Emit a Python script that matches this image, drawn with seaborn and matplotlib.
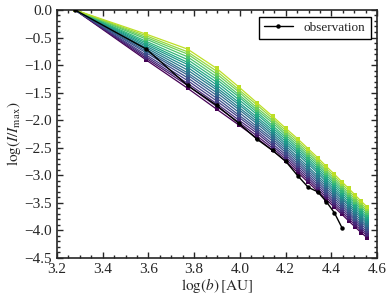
import numpy as np
import pandas as pd
import seaborn as sns
import matplotlib.pyplot as plt
from matplotlib.ticker import MultipleLocator, AutoMinorLocator

# log of projected distance b [AU]
logb = [3.279, 3.591, 3.771, 3.898, 3.996, 4.076, 4.143, 4.201, 4.253,
        4.299, 4.340, 4.378, 4.413, 4.446, 4.476, 4.504, 4.530, 4.555]

# observed profile
obs_logb = [3.279, 3.591, 3.771, 3.898, 3.996, 4.076, 4.143, 4.201,
            4.253, 4.299, 4.340, 4.378, 4.413, 4.446]
obs_logI = [0.0, -0.71, -1.37, -1.73, -2.06, -2.35, -2.55, -2.75,
            -3.01, -3.22, -3.30, -3.48, -3.68, -3.95]

# model profiles: one row per b, one value per model (16 models)
model_logI = [
    [0.0] * 16,
    [-0.91, -0.88, -0.85, -0.82, -0.78, -0.75, -0.72, -0.69, -0.66, -0.63, -0.60, -0.57, -0.53, -0.50, -0.47, -0.44],
    [-1.42, -1.37, -1.33, -1.28, -1.23, -1.18, -1.14, -1.09, -1.04, -0.99, -0.95, -0.90, -0.85, -0.80, -0.76, -0.71],
    [-1.80, -1.75, -1.70, -1.65, -1.60, -1.55, -1.50, -1.45, -1.41, -1.36, -1.31, -1.26, -1.21, -1.16, -1.11, -1.06],
    [-2.09, -2.04, -2.00, -1.95, -1.91, -1.86, -1.81, -1.77, -1.72, -1.68, -1.63, -1.58, -1.54, -1.49, -1.45, -1.40],
    [-2.33, -2.29, -2.24, -2.20, -2.16, -2.12, -2.07, -2.03, -1.99, -1.95, -1.90, -1.86, -1.82, -1.78, -1.73, -1.69],
    [-2.55, -2.51, -2.47, -2.43, -2.38, -2.34, -2.30, -2.26, -2.22, -2.18, -2.14, -2.10, -2.05, -2.01, -1.97, -1.93],
    [-2.75, -2.71, -2.67, -2.63, -2.59, -2.55, -2.51, -2.47, -2.43, -2.39, -2.35, -2.31, -2.27, -2.23, -2.19, -2.15],
    [-2.95, -2.91, -2.87, -2.83, -2.79, -2.75, -2.71, -2.67, -2.62, -2.58, -2.54, -2.50, -2.46, -2.42, -2.38, -2.34],
    [-3.13, -3.09, -3.05, -3.01, -2.97, -2.93, -2.89, -2.85, -2.80, -2.76, -2.72, -2.68, -2.64, -2.60, -2.56, -2.52],
    [-3.29, -3.25, -3.21, -3.17, -3.13, -3.09, -3.05, -3.01, -2.96, -2.92, -2.88, -2.84, -2.80, -2.76, -2.72, -2.68],
    [-3.44, -3.40, -3.36, -3.32, -3.28, -3.24, -3.20, -3.16, -3.12, -3.08, -3.04, -3.00, -2.96, -2.92, -2.88, -2.84],
    [-3.58, -3.54, -3.50, -3.46, -3.42, -3.38, -3.34, -3.30, -3.26, -3.22, -3.18, -3.14, -3.10, -3.06, -3.02, -2.98],
    [-3.71, -3.67, -3.63, -3.59, -3.55, -3.51, -3.47, -3.43, -3.40, -3.36, -3.32, -3.28, -3.24, -3.20, -3.16, -3.12],
    [-3.83, -3.79, -3.75, -3.71, -3.67, -3.63, -3.59, -3.55, -3.52, -3.48, -3.44, -3.40, -3.36, -3.32, -3.28, -3.24],
    [-3.94, -3.90, -3.86, -3.82, -3.79, -3.75, -3.71, -3.67, -3.63, -3.59, -3.55, -3.51, -3.48, -3.44, -3.40, -3.36],
    [-4.04, -4.00, -3.96, -3.93, -3.89, -3.85, -3.81, -3.77, -3.74, -3.70, -3.66, -3.62, -3.58, -3.55, -3.51, -3.47],
    [-4.13, -4.09, -4.06, -4.02, -3.98, -3.94, -3.91, -3.87, -3.83, -3.79, -3.76, -3.72, -3.68, -3.64, -3.61, -3.57],
]

n_models = len(model_logI[0])

# long table for seaborn
rows = []
for i, b in enumerate(logb):
    for m in range(n_models):
        rows.append({'logb': b, 'logI': model_logI[i][m], 'model': m})
df = pd.DataFrame(rows)
obs = pd.DataFrame({'logb': obs_logb, 'logI': obs_logI})

sns.set_style('ticks')
plt.rcParams['font.family'] = ['Liberation Serif', 'DejaVu Serif']
plt.rcParams['mathtext.fontset'] = 'stix'
plt.rcParams['xtick.direction'] = 'in'
plt.rcParams['ytick.direction'] = 'in'

fig = plt.figure(figsize=(3.9, 3.02), dpi=100)
ax = fig.add_axes([0.146, 0.146, 0.821, 0.821])

cmap = sns.color_palette('viridis', as_cmap=True)
pal = [cmap(v) for v in np.linspace(0.0, 0.9, n_models)]

sns.lineplot(data=df, x='logb', y='logI', hue='model', palette=pal,
             marker='s', markersize=2.3, markeredgewidth=0, linewidth=0.9,
             estimator=None, sort=False, legend=False, ax=ax, zorder=2)
sns.lineplot(data=obs, x='logb', y='logI', color='black', marker='o',
             markersize=3.2, markeredgewidth=0, linewidth=1.0,
             estimator=None, sort=False, label='observation', ax=ax, zorder=3)

ax.set_xlim(3.2, 4.6)
ax.set_ylim(-4.5, 0.0)
ax.xaxis.set_major_locator(MultipleLocator(0.2))
ax.xaxis.set_minor_locator(AutoMinorLocator(4))
ax.yaxis.set_major_locator(MultipleLocator(0.5))
ax.yaxis.set_minor_locator(AutoMinorLocator(5))
ax.tick_params(which='both', top=True, right=True, labelsize=11, width=1.0)
ax.tick_params(which='major', length=4)
ax.tick_params(which='minor', length=2)
for s in ax.spines.values():
    s.set_linewidth(1.2)

ax.set_xlabel(r'$\log(b)\,[\mathrm{AU}]$', fontsize=11, labelpad=0)
ax.set_ylabel(r'$\log(I/I_{\rm max})$', fontsize=11, labelpad=1)

leg = ax.legend(loc='upper right', fontsize=9.5, fancybox=False,
                edgecolor='black', framealpha=1, handlelength=2.2)
leg.get_frame().set_linewidth(1.0)

fig.savefig('out.png', dpi=100)
